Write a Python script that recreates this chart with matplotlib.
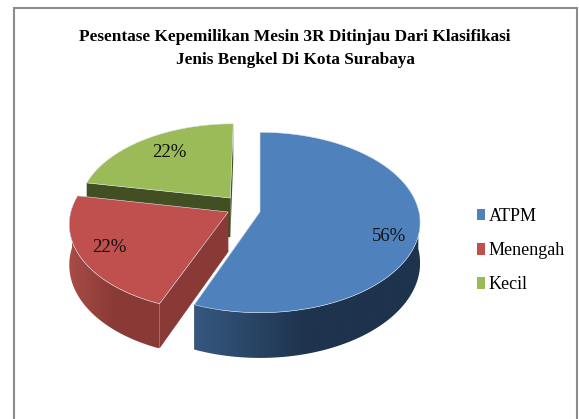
import numpy as np
import matplotlib
matplotlib.use('Agg')
import matplotlib.pyplot as plt
from matplotlib.patches import Polygon, Patch
from matplotlib.colors import LinearSegmentedColormap

title = 'Pesentase Kepemilikan Mesin 3R Ditinjau Dari Klasifikasi\nJenis Bengkel Di Kota Surabaya'
names = ['ATPM', 'Menengah', 'Kecil']
values = [56, 22, 22]
colors = ['#4f81bd', '#c0504d', '#9bbb59']
wall_light = ['#36587f', '#a84c48', '#414f22']
wall_dark = ['#1e334d', '#8a3a36', '#414f22']
inner_wall = ['#1e334d', '#8a3a36', '#414f22']

plt.rcParams['font.family'] = ['Liberation Serif', 'DejaVu Serif']

# pie projection, in pixels
cx, cy = 260, 212
rx, ry = 159, 89
persp = 0.116
depth = 40
offsets = [(0, 0), (-0.2, 0.0), (-0.19, 0.16)]
radius = [1, 0.99, 0.96]
label_pos = [(389, 236), (109, 247), (169, 152)]


def project(u, v):
    d = 1 + persp * v
    return cx + rx * u / d, cy - ry * v / d


fig = plt.figure(figsize=(5.79, 4.19), dpi=100)
ax = fig.add_axes([0, 0, 1, 1])
ax.axis('off')

# frame (no bottom edge, the picture is cut there)
ax.plot([13.5, 13.5], [419, 8.5], color='#8c8c8c', lw=1.5)
ax.plot([13.5, 577], [8.5, 8.5], color='#8c8c8c', lw=1.5)
ax.plot([577, 577], [8.5, 419], color='#8c8c8c', lw=1.5)

# slice angles, clockwise from 12 o'clock
fracs = np.array(values) / sum(values)
ends = 90 - np.cumsum(fracs) * 360
starts = np.r_[90, ends[:-1]]


def draw_slice(i, z):
    du, dv = offsets[i]
    r = radius[i]
    th = np.radians(np.linspace(starts[i], ends[i], 200))
    u, v = du + r * np.cos(th), dv + r * np.sin(th)
    x, y = project(u, v)
    drop = depth / (1 + persp * v)
    ax0, ay0 = project(du, dv)
    drop0 = depth / (1 + persp * dv)

    # straight walls from the centre to the rim
    for k in (0, -1):
        wall = [(ax0, ay0), (x[k], y[k]), (x[k], y[k] + drop[k]), (ax0, ay0 + drop0)]
        ax.add_patch(Polygon(wall, fc=inner_wall[i], ec='none', zorder=z))

    # outer wall, gradient image clipped to the rim band
    front = np.where(np.sin(th) < 0.05)[0]
    if len(front) > 1:
        xs, ys, ds = x[front], y[front], drop[front]
        band = np.column_stack([np.r_[xs, xs[::-1]], np.r_[ys, (ys + ds)[::-1]]])
        clip = Polygon(band, fc='none', ec='none', transform=ax.transData)
        ax.add_patch(clip)
        cmap = LinearSegmentedColormap.from_list('wall', [wall_light[i], wall_dark[i], wall_dark[i]])
        im = ax.imshow(np.linspace(0, 1, 256)[None, :], cmap=cmap, aspect='auto', zorder=z + 0.1,
                       extent=(xs.min(), xs.max(), ys.max() + ds.max(), ys.min()))
        im.set_clip_path(clip)

    top = np.column_stack([np.r_[ax0, x], np.r_[ay0, y]])
    ax.add_patch(Polygon(top, fc=colors[i], ec='#dfe6ee', lw=0.4, zorder=z + 0.2))


draw_slice(2, 2)
draw_slice(1, 3)
draw_slice(0, 4)

ax.set_xlim(0, 579)
ax.set_ylim(419, 0)

for v, (lx, ly) in zip(values, label_pos):
    ax.text(lx, ly, f'{v}%', fontsize=13.5, ha='center', va='center', color='#111111', zorder=6)

ax.text(295, 48.5, title, fontsize=12.4, fontweight='bold', ha='center', va='center',
        linespacing=1.58, color='black')

handles = [Patch(fc=c, ec='none') for c in colors]
ax.legend(handles, names, loc='upper left', bbox_to_anchor=(477 / 579, 1 - 208 / 419),
          frameon=False, fontsize=13, handlelength=0.45, handleheight=0.62,
          handletextpad=0.2, labelspacing=0.95, borderpad=0, borderaxespad=0)

fig.savefig('out.png', dpi=100)
